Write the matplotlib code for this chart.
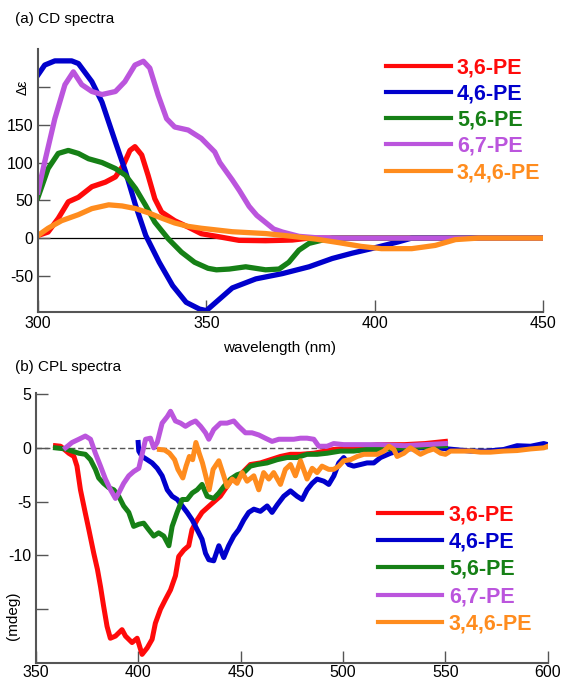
import matplotlib
matplotlib.use('Agg')
import matplotlib.pyplot as plt

plt.rcParams['font.family'] = ['Liberation Sans', 'DejaVu Sans']

labels = ['3,6-PE', '4,6-PE', '5,6-PE', '6,7-PE', '3,4,6-PE']
colors = ['#ff0a0a', '#0000cc', '#168016', '#bb55dd', '#ff8c1e']

# (a) CD spectra
cd_wl_36 = [300, 303, 306, 309, 312, 316, 320, 323, 325.3, 327.3, 328.8, 330.8, 332.7, 334.7, 336.7,
            340.6, 344.6, 348.5, 353.8, 359.7, 367.6, 375.5, 380.5, 390, 400, 420, 450]
cd_36 = [3.5, 8, 26, 48, 54, 68, 74, 81, 96, 116, 121, 110, 83, 52, 34.5,
         23, 14.6, 5.8, 1.7, -3, -3.5, -2.6, 0, 0, 0, 0, 0]

cd_wl_46 = [300, 302, 305, 310, 312, 316, 319, 323, 326, 329, 332, 336, 340, 344, 348, 350,
            357.7, 364.7, 372.6, 380.5, 387.4, 393.3, 399, 407, 411, 430, 450]
cd_46 = [216, 229, 234.5, 234.5, 231, 207, 180, 127, 88, 43, 3.5, -32, -63, -85, -94, -96,
         -66, -54, -47, -38, -27, -20, -14, -5, 0, 0, 0]

cd_wl_56 = [300, 303, 306, 309, 312, 315, 319, 323, 326, 329, 332, 334.7, 338.7, 342.6, 346.5,
            350.5, 353, 356.8, 361.7, 367.6, 371.6, 374.5, 377.5, 380.5, 384.4, 387.4, 420, 450]
cd_56 = [54, 92, 112, 116, 112, 105, 100, 92, 83, 65.5, 43, 21, -1, -18.6, -32,
         -40, -42, -41, -38, -42, -41, -32, -16, -7, -2.7, 0, 0, 0]

cd_wl_67 = [300, 302, 305, 308, 310.5, 313, 316, 319, 323, 325.8, 328.8, 331.3, 333.2, 335.7,
            338.2, 340.6, 344.6, 348.5, 352.5, 354, 357.7, 359.8, 362.7, 365, 370, 372.6,
            377.5, 382.5, 390, 420, 450]
cd_67 = [61, 101, 158, 203, 220, 203, 194, 190, 194, 207, 229, 234, 225, 189,
         158, 147, 143, 132, 114, 100, 77, 63, 42, 30, 12, 8,
         2.3, 0.5, 0, 0, 0]

cd_wl_346 = [300, 303, 307, 312, 316, 321, 325, 329, 332.7, 336.7, 340.6, 344.6, 348.5, 352.5,
             357.7, 367.6, 375.5, 382.5, 389.3, 396, 402, 407, 411, 418, 424, 430.8, 450]
cd_346 = [3.5, 13, 23, 31, 39, 44, 42.5, 39, 33.6, 26.5, 20, 15.5, 13, 11,
          8.4, 6, 2.3, -1.3, -6, -11, -14, -14, -14, -9.7, -2, 0, 0]

# (b) CPL spectra
cpl_wl_36 = [359.5, 362, 366, 368.5, 370, 371.7, 374, 375.8, 378.2, 380, 381.5, 383, 384.7, 386.3,
             388.8, 392, 393.7, 396.9, 399.4, 401.8, 404.3, 406.7, 408.3, 410.8, 413.2, 415.7,
             418.1, 419.7, 422.2, 424.6, 426.2, 428.7, 431.1, 435.2, 440, 445, 449.8, 454.7,
             459.6, 464.5, 469.4, 474.3, 479.2, 485.7, 495.4, 505.2, 516.6, 530, 540, 550]
cpl_36 = [0.2, 0.15, -0.5, -0.8, -1.7, -3.9, -6, -7.6, -9.8, -11.3, -12.9, -14.7, -16.6, -17.7,
          -17.5, -16.9, -17.5, -18.1, -17.7, -19.2, -18.6, -17.8, -16.3, -15, -14.1, -13.2,
          -11.9, -10.1, -9.5, -9.1, -7.6, -6.7, -6, -5.3, -4.5, -3.1, -2.5, -1.55,
          -1.4, -1.1, -0.8, -0.6, -0.6, -0.5, -0.15, 0, 0.3, 0.3, 0.4, 0.6]

cpl_wl_46 = [399.9, 400.2, 401.8, 404.3, 406.7, 409.2, 411.6, 414.1, 416.5, 419, 421.4, 423.8,
             426.3, 428.7, 431.1, 432.8, 434.4, 436.8, 439.3, 441.7, 444.1, 446.6, 449, 451.5,
             453.9, 456.4, 459.6, 462.9, 465.3, 467.8, 471, 474.3, 477.5, 480, 482.4, 484.9,
             487.3, 490.6, 493, 495.5, 497.9, 500.3, 502.8, 505.2, 508.5, 511.7, 515, 518.3,
             523.2, 529.7, 537.8, 546, 554, 562.3, 570.4, 578.5, 585, 591.6, 598, 600]
cpl_46 = [0.5, -0.3, -0.8, -1.1, -1.4, -1.9, -2.6, -3.9, -4.5, -4.8, -5.4, -6,
          -6.7, -7.6, -8.5, -9.8, -10.4, -10.5, -9.1, -10.2, -9.1, -8.2, -7.6, -6.7,
          -6, -5.7, -5.9, -5.4, -6, -5.3, -4.5, -4, -4.5, -4.8, -3.9, -3.3,
          -2.9, -3.1, -3.4, -2.6, -1.4, -0.9, -1.55, -1.7, -1.55, -1.4, -1.4, -0.9,
          -0.5, -0.15, 0, 0, -0.15, -0.3, -0.3, -0.15, 0.2, 0.15, 0.4, 0.3]

cpl_wl_56 = [359.5, 364.4, 367.6, 370.9, 374.1, 376.6, 379, 380.6, 383, 385.5, 388, 390.4, 392.8,
             395.3, 397.7, 400.2, 402.6, 405, 407.5, 409.9, 412.4, 414.9, 416.5, 418.9, 421.4,
             423.8, 426.3, 428.7, 431.1, 433.6, 436.8, 439.3, 441.7, 445, 448.2, 451.5, 454.7,
             458, 462.9, 467.8, 472.6, 477.5, 482.4, 487.3, 492.2, 498.7, 505.2, 511.7, 518.3,
             530, 540, 550]
cpl_56 = [0, -0.1, -0.3, -0.5, -0.6, -1.1, -2, -2.8, -3.3, -3.7, -3.9, -4.5, -5.4,
          -6, -7.3, -7.1, -7, -7.6, -8.2, -7.9, -8.2, -9.1, -7.3, -6, -4.8,
          -4.8, -4.2, -3.9, -3.4, -4.5, -4.7, -4.2, -3.6, -2.9, -2.5, -2.3, -1.7,
          -1.55, -1.4, -1.1, -0.9, -0.9, -0.6, -0.6, -0.5, -0.3, -0.3, -0.15, -0.15,
          0, 0.1, 0.2]

cpl_wl_67 = [364.4, 367.6, 370.9, 374.1, 376.6, 379, 381.5, 383.9, 386.4, 388.8, 390.4, 392.8,
             395.3, 397.7, 400.2, 401.8, 403.5, 405.9, 407.5, 409.2, 411.6, 414.1, 415.7, 418.1,
             420.6, 423, 425.5, 427.9, 430.4, 432.8, 434.4, 436.8, 440.1, 443.3, 446.6, 449,
             452.3, 455.5, 458.8, 462, 465.3, 468.6, 472.6, 475.9, 479.2, 482.4, 485.7, 488.1,
             492.2, 495.4, 500.3, 505.2, 511.7, 518.3, 530, 540, 550]
cpl_67 = [0, 0.5, 0.8, 1.1, 0.8, -0.5, -1.7, -2.9, -3.9, -4.7, -4.2, -3.3,
          -2.6, -2.2, -1.9, -0.6, 0.8, 0.9, 0, 0.5, 2.3, 2.9, 3.4, 2.5,
          2.3, 2, 2.3, 2.5, 2, 1.4, 0.8, 1.7, 2.3, 2.3, 2.5, 2,
          1.4, 1.4, 1.2, 0.9, 0.6, 0.8, 0.8, 0.8, 0.9, 0.9, 0.8, 0.15,
          0.15, 0.4, 0.3, 0.3, 0.3, 0.3, 0.2, 0.3, 0.4]

cpl_wl_346 = [410.3, 412.8, 415.2, 417.7, 419.3, 421.7, 423.3, 424.9, 426.5, 428.1, 429.7, 431.3,
              432.9, 434.6, 436.5, 439.3, 441.7, 443.3, 445.8, 448.2, 450.7, 453.1, 456.4, 458.8,
              461.2, 463.7, 466.1, 469.4, 471.8, 474.3, 476.7, 479.2, 482.4, 484.9, 487.3, 489.7,
              493, 495.4, 497.9, 500.3, 503.6, 506.9, 510.1, 513.4, 516.7, 519.9, 522.4, 524.8,
              526.4, 529.7, 532.9, 535.4, 537.8, 541.1, 544.3, 547.6, 550, 552.5, 557.4, 562.3,
              567.1, 572, 578.5, 585, 591.6, 598, 600]
cpl_346 = [-0.15, -0.2, -0.5, -1.1, -2, -2.8, -1.7, -0.8, -1.1, 0.5, -0.5, -1.4,
           -2.6, -3.9, -2, -1.2, -2.6, -3.6, -2.9, -3.3, -2.3, -3.1, -2.6, -3.9,
           -2.3, -2.9, -2.3, -3.4, -2, -1.55, -2.6, -1.2, -2.9, -1.9, -2.3, -1.7,
           -2, -2, -1.7, -1.2, -1.1, -0.8, -0.6, -0.6, -0.6, -0.3, 0.15, -0.15,
           -0.8, -0.5, 0, -0.3, -0.6, -0.3, -0.1, -0.5, -0.6, -0.3, -0.3, -0.3,
           -0.4, -0.4, -0.3, -0.25, -0.1, 0, 0.15]

cd_wl = [cd_wl_36, cd_wl_46, cd_wl_56, cd_wl_67, cd_wl_346]
cd = [cd_36, cd_46, cd_56, cd_67, cd_346]
cpl_wl = [cpl_wl_36, cpl_wl_46, cpl_wl_56, cpl_wl_67, cpl_wl_346]
cpl = [cpl_36, cpl_46, cpl_56, cpl_67, cpl_346]

fig = plt.figure(figsize=(5.63, 6.83), dpi=100)
ax1 = fig.add_axes([0.0675, 0.543, 0.897, 0.385])
ax2 = fig.add_axes([0.064, 0.0293, 0.909, 0.3953])

spine_col = '#555555'


def style_axes(ax):
    for side in ['top', 'right']:
        ax.spines[side].set_visible(False)
    for side in ['left', 'bottom']:
        ax.spines[side].set_color(spine_col)
        ax.spines[side].set_linewidth(1.5)
    ax.tick_params(direction='in', length=8.5, width=1, color=spine_col, labelsize=11.5)
    ax.tick_params(axis='x', pad=3)


def colour_legend(ax, x_left, y_top, spacing):
    leg = ax.legend(loc='upper left', bbox_to_anchor=(x_left, y_top),
                    bbox_transform=fig.transFigure, frameon=False, borderpad=0, borderaxespad=0,
                    handlelength=3.0, handletextpad=0.3, labelspacing=spacing,
                    prop={'weight': 'bold', 'size': 15.5})
    for t, c in zip(leg.get_texts(), colors):
        t.set_color(c)
    for h in leg.get_lines():
        h.set_linewidth(3)


# top panel
ax1.axhline(0, color='black', lw=0.9, zorder=1)
for wl, v, c, lab in zip(cd_wl, cd, colors, labels):
    ax1.plot(wl, v, color=c, lw=3.8, label=lab, solid_joinstyle='round')
ax1.set_xlim(300, 450)
ax1.set_ylim(-98, 250)
ax1.set_xticks([300, 350, 400, 450])
ax1.set_yticks([-50, 0, 50, 100, 150, 200])
ax1.set_yticklabels(['-50', '0', '50', '100', '150', ''])
style_axes(ax1)
ax1.text(-0.03, 200, 'Δε', rotation=90, fontsize=10, ha='center', va='center',
         transform=ax1.get_yaxis_transform())
colour_legend(ax1, 0.6856, 0.916, 0.24)

fig.text(280 / 563, 1 - 348 / 683, 'wavelength (nm)', fontsize=11, ha='center', va='center')
fig.text(15 / 563, 1 - 19 / 683, '(a) CD spectra', fontsize=11, ha='left', va='center')
fig.text(15 / 563, 1 - 367 / 683, '(b) CPL spectra', fontsize=11, ha='left', va='center')

# bottom panel
ax2.axhline(0, color='#555555', lw=1, ls='--', dashes=(4, 2), zorder=1)
for wl, v, c, lab in zip(cpl_wl, cpl, colors, labels):
    ax2.plot(wl, v, color=c, lw=3.6, label=lab, solid_joinstyle='round')
ax2.set_xlim(350, 600)
ax2.set_ylim(-20, 5.1)
ax2.set_xticks([350, 400, 450, 500, 550, 600])
ax2.set_yticks([5, 0, -5, -10, -15])
ax2.set_yticklabels(['5', '0', '-5', '-10', ''])
style_axes(ax2)
ax2.tick_params(axis='x', pad=1.5)
ax2.text(-0.045, -15.6, '(mdeg)', rotation=90, fontsize=11, ha='center', va='center',
         transform=ax2.get_yaxis_transform())
colour_legend(ax2, 0.671, 0.262, 0.3)

fig.savefig('out.png', dpi=100)
